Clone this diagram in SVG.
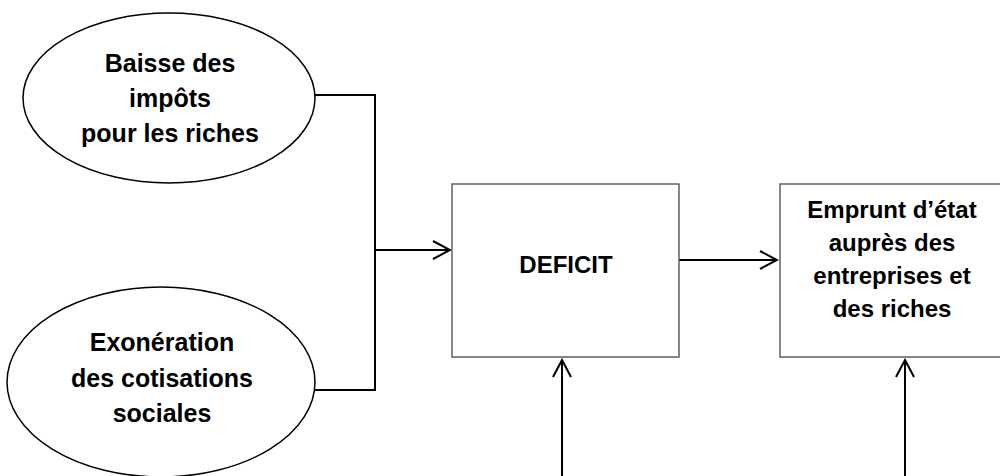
<svg xmlns="http://www.w3.org/2000/svg" width="1000" height="476" viewBox="0 0 1000 476">
<style>
.node{fill:#fff;stroke:#000;stroke-width:1.5}
.box{fill:#fff;stroke:#555;stroke-width:1.4}
.t{font-family:"Liberation Sans",Arial,sans-serif;font-weight:bold;font-size:24px;text-anchor:middle;fill:#000}
.e{font-size:25px}
.c{fill:none;stroke:#000;stroke-width:2}
</style>
<defs>
<marker id="v" markerWidth="20" markerHeight="22" refX="18" refY="11" orient="auto" markerUnits="userSpaceOnUse">
<path d="M1,2 L18,11 L1,20" fill="none" stroke="#000" stroke-width="2"/>
</marker>
</defs>
<rect width="1000" height="476" fill="#fff"/>
<g id="connectors">
<polyline class="c" points="315,95 375,95 375,390 315,390"/>
<line class="c" x1="375" y1="250" x2="450" y2="250" marker-end="url(#v)"/>
<line class="c" x1="679" y1="260" x2="777" y2="260" marker-end="url(#v)"/>
<line class="c" x1="562" y1="476" x2="562" y2="360" marker-end="url(#v)"/>
<line class="c" x1="905" y1="476" x2="905" y2="360" marker-end="url(#v)"/>
</g>
<g id="baisse">
<ellipse class="node" cx="169" cy="98" rx="146" ry="85"/>
<text class="t e" x="170" y="72">Baisse des</text>
<text class="t e" x="170" y="107">impôts</text>
<text class="t e" x="170" y="142">pour les riches</text>
</g>
<g id="exoneration">
<ellipse class="node" cx="161" cy="382" rx="154" ry="95"/>
<text class="t e" x="162" y="351">Exonération</text>
<text class="t e" x="162" y="387">des cotisations</text>
<text class="t e" x="162" y="422">sociales</text>
</g>
<g id="deficit">
<rect class="box" x="452" y="184" width="227" height="173"/>
<text class="t" x="566" y="273">DEFICIT</text>
</g>
<g id="emprunt">
<rect class="box" x="780" y="184" width="230" height="173"/>
<text class="t" x="892" y="218">Emprunt d’état</text>
<text class="t" x="892" y="251">auprès des</text>
<text class="t" x="892" y="284">entreprises et</text>
<text class="t" x="892" y="317">des riches</text>
</g>
</svg>
